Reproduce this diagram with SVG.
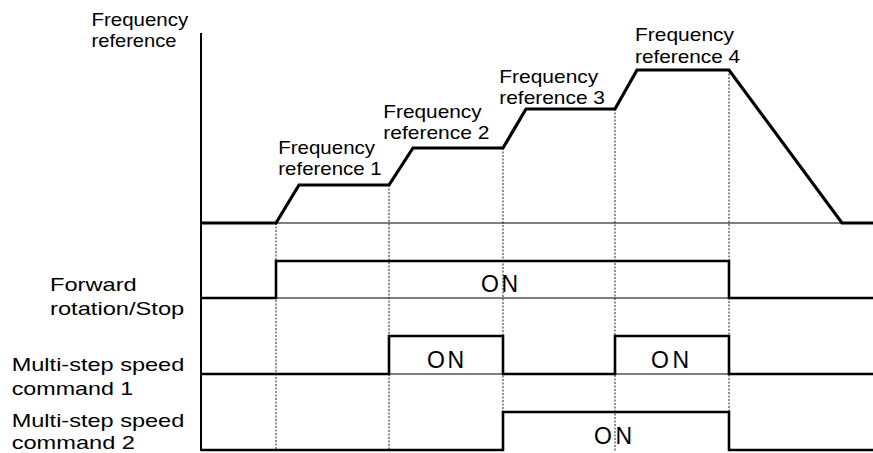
<svg xmlns="http://www.w3.org/2000/svg" width="873" height="453" viewBox="0 0 873 453">
<style>
text{font-family:"Liberation Sans",Arial,sans-serif;font-size:19px;fill:#000}
.on{font-size:23px}
.thin{stroke:#000;stroke-width:1.2;fill:none}
.sig{stroke:#000;stroke-width:2.6;fill:none;stroke-linejoin:miter}
.freq{stroke:#000;stroke-width:3.2;fill:none;stroke-linejoin:miter}
.dot{stroke:#222;stroke-width:1;stroke-dasharray:2 1.5;fill:none}
</style>
<rect width="873" height="453" fill="#fff"/>
<g id="connectors">
<line class="dot" x1="276" y1="223" x2="276" y2="451"/>
<line class="dot" x1="389" y1="185" x2="389" y2="451"/>
<line class="dot" x1="503" y1="148" x2="503" y2="451"/>
<line class="dot" x1="615" y1="109" x2="615" y2="451"/>
<line class="dot" x1="729" y1="70" x2="729" y2="451"/>
<line class="thin" x1="201" y1="223" x2="873" y2="223"/>
<line class="thin" x1="201" y1="298" x2="873" y2="298"/>
<line class="thin" x1="201" y1="374" x2="873" y2="374"/>
<line x1="201" y1="33" x2="201" y2="451" stroke="#000" stroke-width="2"/>
</g>
<g id="freq-curve">
<path class="freq" d="M201,223 L276,223 L299,185 L389,185 L413,148 L503,148 L526,109 L615,109 L637,70 L729,70 L842,223 L873,223"/>
</g>
<g id="forward-signal">
<path class="sig" d="M201,298 L276,298 L276,261 L729,261 L729,298 L873,298"/>
<text class="on" x="481" y="292" textLength="37" lengthAdjust="spacing">ON</text>
</g>
<g id="ms1-signal">
<path class="sig" d="M201,374 L389,374 L389,336 L503,336 L503,374 L615,374 L615,336 L729,336 L729,374 L873,374"/>
<text class="on" x="427" y="368" textLength="37" lengthAdjust="spacing">ON</text>
<text class="on" x="651" y="368" textLength="38" lengthAdjust="spacing">ON</text>
</g>
<g id="ms2-signal">
<path class="sig" d="M201,450 L503,450 L503,412 L729,412 L729,450 L873,450"/>
<text class="on" x="594" y="443.5" textLength="38" lengthAdjust="spacing">ON</text>
</g>
<g id="axis-label">
<text x="91.5" y="26" textLength="96.7" lengthAdjust="spacingAndGlyphs">Frequency</text>
<text x="91.5" y="47.3" textLength="85" lengthAdjust="spacingAndGlyphs">reference</text>
</g>
<g id="ref1">
<text x="278.3" y="154" textLength="96.7" lengthAdjust="spacingAndGlyphs">Frequency</text>
<text x="278.3" y="175" textLength="103.4" lengthAdjust="spacingAndGlyphs">reference 1</text>
</g>
<g id="ref2">
<text x="383.3" y="117.7" textLength="98.4" lengthAdjust="spacingAndGlyphs">Frequency</text>
<text x="383.3" y="139" textLength="106" lengthAdjust="spacingAndGlyphs">reference 2</text>
</g>
<g id="ref3">
<text x="499.3" y="82.7" textLength="99" lengthAdjust="spacingAndGlyphs">Frequency</text>
<text x="499.3" y="104" textLength="105.7" lengthAdjust="spacingAndGlyphs">reference 3</text>
</g>
<g id="ref4">
<text x="635" y="41" textLength="99" lengthAdjust="spacingAndGlyphs">Frequency</text>
<text x="635" y="62.7" textLength="105" lengthAdjust="spacingAndGlyphs">reference 4</text>
</g>
<g id="label-forward">
<text x="50" y="291" textLength="86.7" lengthAdjust="spacingAndGlyphs">Forward</text>
<text x="50" y="315" textLength="134.3" lengthAdjust="spacingAndGlyphs">rotation/Stop</text>
</g>
<g id="label-ms1">
<text x="11.7" y="370.5" textLength="172.6" lengthAdjust="spacingAndGlyphs">Multi-step speed</text>
<text x="11.7" y="395" textLength="121.6" lengthAdjust="spacingAndGlyphs">command 1</text>
</g>
<g id="label-ms2">
<text x="11.7" y="427" textLength="172.6" lengthAdjust="spacingAndGlyphs">Multi-step speed</text>
<text x="11.7" y="448.5" textLength="123.3" lengthAdjust="spacingAndGlyphs">command 2</text>
</g>
</svg>
